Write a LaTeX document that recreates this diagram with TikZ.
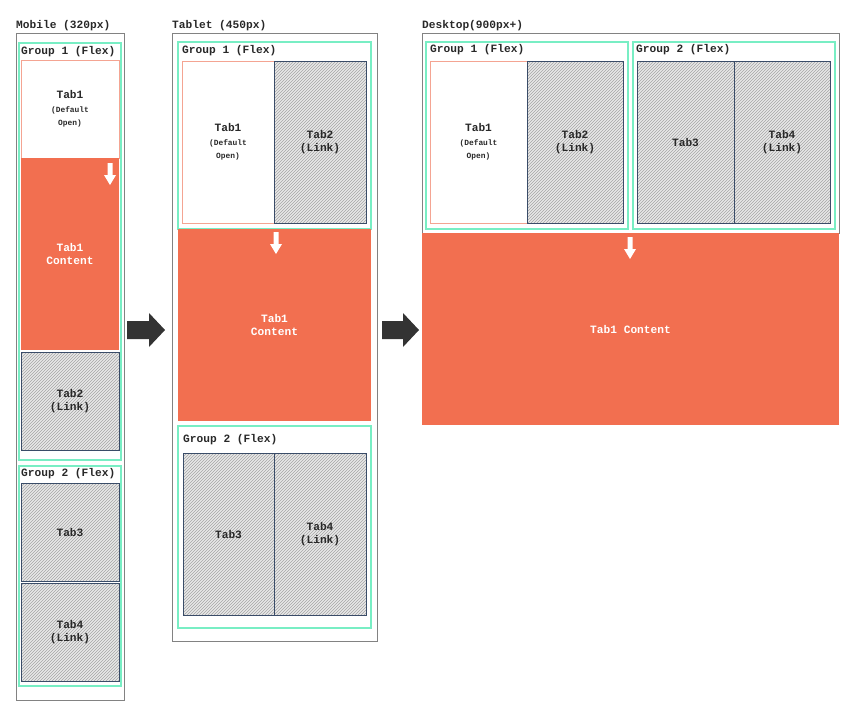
\documentclass[tikz,border=0pt]{standalone}
\usepackage{fontspec}
\setmonofont{Liberation Mono}
\usepackage{tikz}
\usetikzlibrary{patterns}
\definecolor{tabred}{RGB}{242,111,80}
\definecolor{groupgreen}{RGB}{120,238,196}
\definecolor{panelgray}{RGB}{130,130,130}
\definecolor{tabline}{RGB}{244,164,146}
\definecolor{linkblue}{RGB}{58,76,104}
\definecolor{hatchbg}{RGB}{232,232,232}
\definecolor{hatchline}{RGB}{165,165,165}
\definecolor{textgray}{RGB}{40,40,40}
\definecolor{arrowgray}{RGB}{51,51,51}
\newcommand\tabsmall{\fontsize{7.9}{13}\selectfont}

\begin{document}
\begin{tikzpicture}[x=1pt, y=-1pt,
box/.style = {anchor=north west, inner sep=0pt, outer sep=0pt, align=center,
  font=\ttfamily\bfseries\fontsize{11.2}{13.5}\selectfont},
panel/.style = {box, draw=panelgray, line width=1pt},
group/.style = {box, draw=groupgreen, line width=1.5pt},
tabopen/.style = {box, draw=tabline, fill=white, line width=1pt, text=textgray},
tablink/.style = {box, draw=linkblue, line width=1pt, text=textgray,
  preaction={fill=hatchbg}, pattern=north east lines, pattern color=hatchline},
content/.style = {box, fill=tabred, text=white},
title/.style = {anchor=west, inner sep=0pt, text=textgray,
  font=\ttfamily\bfseries\fontsize{11.2}{13.5}\selectfont},
bigarrow/.style = {fill=arrowgray},
tiparrow/.style = {fill=white}]
\useasboundingbox (0,0) rectangle (854,724);

% mobile
\node[title] (mt) at (16,26) {Mobile (320px)};
\node[panel, minimum width=108, minimum height=667] (mob) at (16,33) {};
\node[group, minimum width=102, minimum height=417] (mg1) at (19,43) {};
\node[title] (mg1l) at (21,52) {Group 1 (Flex)};
\node[tabopen, minimum width=98, minimum height=98] (mtab1) at (21,60) {Tab1\\{\tabsmall(Default}\\{\tabsmall Open)}};
\node[content, minimum width=98, minimum height=192] (mcont) at (21,158) {Tab1\\Content};
\fill[tiparrow] (107.5,163) -- ++(5,0) -- ++(0,12) -- ++(3.5,0) -- ++(-6,10) -- ++(-6,-10) -- ++(3.5,0) -- cycle;
\node[tablink, minimum width=98, minimum height=98] (mtab2) at (21,352) {Tab2\\(Link)};
\node[group, minimum width=102, minimum height=220] (mg2) at (19,466) {};
\node[title] (mg2l) at (21,474) {Group 2 (Flex)};
\node[tablink, minimum width=98, minimum height=98] (mtab3) at (21,483) {Tab3};
\node[tablink, minimum width=98, minimum height=98] (mtab4) at (21,583) {Tab4\\(Link)};

\fill[bigarrow] (127,321) -- ++(22,0) -- ++(0,-8) -- ++(16,17) -- ++(-16,17) -- ++(0,-8) -- ++(-22,0) -- cycle;

% tablet
\node[title] (tt) at (172,26) {Tablet (450px)};
\node[panel, minimum width=205, minimum height=608] (tab) at (172,33) {};
\node[group, minimum width=193, minimum height=187] (tg1) at (178,42) {};
\node[title] (tg1l) at (182,51) {Group 1 (Flex)};
\node[tabopen, minimum width=92, minimum height=162] (ttab1) at (182,61) {Tab1\\{\tabsmall(Default}\\{\tabsmall Open)}};
\node[tablink, minimum width=92, minimum height=162] (ttab2) at (274,61) {Tab2\\(Link)};
\node[content, minimum width=193, minimum height=192] (tcont) at (178,229) {Tab1\\Content};
\fill[tiparrow] (273.5,232) -- ++(5,0) -- ++(0,12) -- ++(3.5,0) -- ++(-6,10) -- ++(-6,-10) -- ++(3.5,0) -- cycle;
\node[group, minimum width=193, minimum height=202] (tg2) at (178,426) {};
\node[title] (tg2l) at (183,440) {Group 2 (Flex)};
\node[tablink, minimum width=91, minimum height=162] (ttab3) at (183,453) {Tab3};
\node[tablink, minimum width=92, minimum height=162] (ttab4) at (274,453) {Tab4\\(Link)};

\fill[bigarrow] (382,321) -- ++(21,0) -- ++(0,-8) -- ++(16,17) -- ++(-16,17) -- ++(0,-8) -- ++(-21,0) -- cycle;

% desktop
\node[title] (dt) at (422,26) {Desktop(900px+)};
\node[panel, minimum width=417, minimum height=200] (desk) at (422,33) {};
\node[group, minimum width=202, minimum height=187] (dg1) at (426,42) {};
\node[title] (dg1l) at (430,50) {Group 1 (Flex)};
\node[group, minimum width=202, minimum height=187] (dg2) at (633,42) {};
\node[title] (dg2l) at (636,50) {Group 2 (Flex)};
\node[tabopen, minimum width=97, minimum height=162] (dtab1) at (430,61) {Tab1\\{\tabsmall(Default}\\{\tabsmall Open)}};
\node[tablink, minimum width=96, minimum height=162] (dtab2) at (527,61) {Tab2\\(Link)};
\node[tablink, minimum width=97, minimum height=162] (dtab3) at (637,61) {Tab3};
\node[tablink, minimum width=96, minimum height=162] (dtab4) at (734,61) {Tab4\\(Link)};
\node[content, minimum width=417, minimum height=192] (dcont) at (422,233) {Tab1 Content};
\fill[tiparrow] (627.5,237) -- ++(5,0) -- ++(0,12) -- ++(3.5,0) -- ++(-6,10) -- ++(-6,-10) -- ++(3.5,0) -- cycle;
\end{tikzpicture}
\end{document}
